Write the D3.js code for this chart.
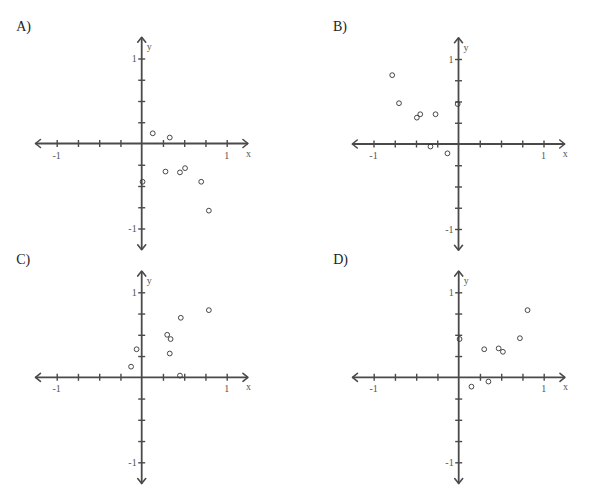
<!DOCTYPE html>
<html><head><meta charset="utf-8">
<script src="https://cdn.jsdelivr.net/npm/d3@7"></script>
<style>body{margin:0;background:#fff}svg{display:block}text{font-family:"Liberation Serif","Times New Roman",serif}</style>
</head><body>
<svg id="c" width="590" height="501"></svg>
<script>
const panelLabels = ["A)", "B)", "C)", "D)"];
const tickValues = [-1, -0.75, -0.5, -0.25, 0.25, 0.5, 0.75, 1];
const tickLabels = ["-1", "1"];
const axisNames = ["x", "y"];
const xA = [0.13, 0.33, 0.28, 0.45, 0.51, 0.70, 0.79, 0.01];
const yA = [0.12, 0.07, -0.33, -0.34, -0.29, -0.45, -0.79, -0.45];
const xB = [-0.78, -0.70, -0.49, -0.45, -0.27, -0.01, -0.33, -0.13];
const yB = [0.81, 0.48, 0.31, 0.35, 0.35, 0.47, -0.03, -0.11];
const xC = [-0.125, -0.06, 0.30, 0.34, 0.33, 0.46, 0.79, 0.45];
const yC = [0.125, 0.33, 0.50, 0.45, 0.28, 0.70, 0.79, 0.02];
const xD = [0.01, 0.30, 0.47, 0.52, 0.72, 0.81, 0.15, 0.35];
const yD = [0.45, 0.33, 0.34, 0.30, 0.46, 0.79, -0.11, -0.05];

const panels = [
  {label: panelLabels[0], xs: xA, ys: yA, cx: 141.7, cy: 143.5},
  {label: panelLabels[1], xs: xB, ys: yB, cx: 458.5, cy: 144},
  {label: panelLabels[2], xs: xC, ys: yC, cx: 141.7, cy: 377.3},
  {label: panelLabels[3], xs: xD, ys: yD, cx: 458.7, cy: 377.3}
];
const U = 85, EXT = 1.25;
const svg = d3.select("#c");
const axisCol = "#4a4a4a";

panels.forEach(p => {
  const x = d3.scaleLinear().domain([-1, 1]).range([p.cx - U, p.cx + U]);
  const y = d3.scaleLinear().domain([-1, 1]).range([p.cy + U, p.cy - U]);
  const g = svg.append("g");

  g.append("text").text(p.label)
    .attr("x", p.cx - 125.5).attr("y", p.cy - 113)
    .attr("font-size", 14).attr("fill", "#222");

  g.append("line").attr("x1", x(-EXT)).attr("x2", x(EXT)).attr("y1", y(0)).attr("y2", y(0))
    .attr("stroke", axisCol).attr("stroke-width", 1.8);
  g.append("line").attr("x1", x(0)).attr("x2", x(0)).attr("y1", y(-EXT)).attr("y2", y(EXT))
    .attr("stroke", axisCol).attr("stroke-width", 1.8);

  const ah = 5, aw = 4;
  const arrows = [
    [[x(EXT) - ah, y(0) - aw], [x(EXT), y(0)], [x(EXT) - ah, y(0) + aw]],
    [[x(-EXT) + ah, y(0) - aw], [x(-EXT), y(0)], [x(-EXT) + ah, y(0) + aw]],
    [[x(0) - aw, y(EXT) + ah], [x(0), y(EXT)], [x(0) + aw, y(EXT) + ah]],
    [[x(0) - aw, y(-EXT) - ah], [x(0), y(-EXT)], [x(0) + aw, y(-EXT) - ah]]
  ];
  arrows.forEach(a => g.append("path").attr("d", d3.line()(a))
    .attr("fill", "none").attr("stroke", axisCol).attr("stroke-width", 1.6)
    .attr("stroke-linecap", "round").attr("stroke-linejoin", "round"));

  const gx = g.append("g").attr("transform", `translate(0,${y(0) - 3.5})`)
    .call(d3.axisBottom(x).tickValues(tickValues).tickSize(7).tickFormat(""));
  const gy = g.append("g").attr("transform", `translate(${x(0) + 3.5},0)`)
    .call(d3.axisLeft(y).tickValues(tickValues).tickSize(7).tickFormat(""));
  [gx, gy].forEach(a => {
    a.select(".domain").remove();
    a.selectAll(".tick line").attr("stroke", axisCol).attr("stroke-width", 1.4);
  });

  const addText = (t, xx, yy, anchor) => {
    g.append("text").text(t).attr("x", xx).attr("y", yy).attr("text-anchor", anchor)
      .attr("font-size", 10).attr("fill", "#555");
  };
  addText(tickLabels[0], x(-1), y(0) + 15, "middle");
  addText(tickLabels[1], x(1), y(0) + 15, "middle");
  addText(tickLabels[1], x(0) - 5, y(1) + 3.5, "end");
  addText(tickLabels[0], x(0) - 5, y(-1) + 3.5, "end");
  addText(axisNames[0], x(EXT) - 2, y(0) + 13, "start");
  addText(axisNames[1], x(0) + 5, y(EXT) + 13, "start");

  g.selectAll("circle.pt").data(p.xs.map((v, i) => [v, p.ys[i]])).enter()
    .append("circle").attr("class", "pt")
    .attr("cx", d => x(d[0])).attr("cy", d => y(d[1])).attr("r", 2.4)
    .attr("fill", "none").attr("stroke", "#333").attr("stroke-width", 0.9);
});
</script>
</body></html>
